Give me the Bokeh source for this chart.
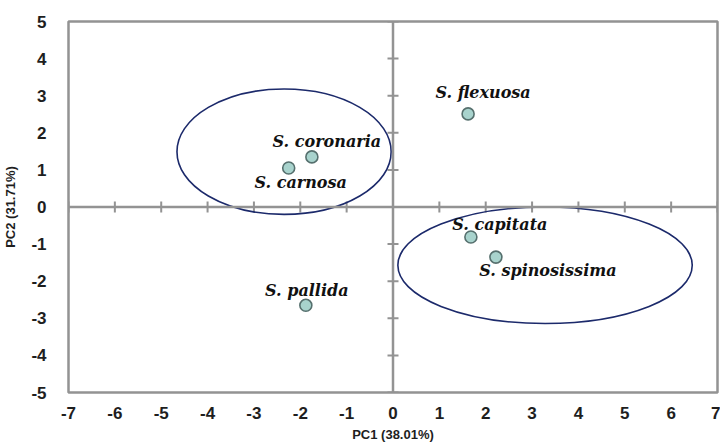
import math
from bokeh.plotting import figure
from bokeh.models import FixedTicker, Span
from bokeh.core.properties import value
from bokeh.embed import file_html
from bokeh.resources import INLINE

species = ["S. flexuosa", "S. coronaria", "S. carnosa", "S. capitata", "S. spinosissima", "S. pallida"]
pc1 = [1.62, -1.75, -2.25, 1.68, 2.22, -1.88]
pc2 = [2.51, 1.35, 1.05, -0.81, -1.35, -2.65]

# group ellipses (centre, width, height in PC units)
ell_x = [-2.35, 3.28]
ell_y = [1.49, -1.57]
ell_w = [4.62, 6.35]
ell_h = [3.38, 3.14]

x_ticks = list(range(-7, 8))
y_ticks = list(range(-5, 6))
x_tick_labels = {t: str(t) for t in x_ticks}
y_tick_labels = {t: str(t) for t in y_ticks}

# label offsets (pixels) relative to points
lab_dx = [15, 15, 12, 29, 52, 1]
lab_dy = [-21, -15, 14, -13, 13, -15]

GRAY = "#939393"
TXT = "#1e1e1e"

p = figure(width=720, height=444, x_range=(-7, 7), y_range=(-5, 5),
           output_backend="svg", toolbar_location=None,
           min_border_left=61, min_border_top=21, min_border_right=3, min_border_bottom=52)
p.xgrid.visible = False
p.ygrid.visible = False
p.outline_line_color = GRAY
p.outline_line_width = 2.5
p.background_fill_color = "white"
p.border_fill_color = "white"

for ax, ticks, labs in ((p.xaxis[0], x_ticks, x_tick_labels), (p.yaxis[0], y_ticks, y_tick_labels)):
    ax.ticker = FixedTicker(ticks=ticks)
    ax.major_label_overrides = labs
    ax.axis_line_color = None
    ax.major_tick_line_color = None
    ax.minor_tick_line_color = None
    ax.major_label_text_font = "Liberation Sans"
    ax.major_label_text_font_style = "bold"
    ax.major_label_text_font_size = "17px"
    ax.major_label_text_color = TXT
    ax.axis_label_text_font = "Liberation Sans"
    ax.axis_label_text_font_style = "bold"
    ax.axis_label_text_font_size = "13px"
    ax.axis_label_text_color = TXT
p.xaxis[0].axis_label = "PC1 (38.01%)"
p.yaxis[0].axis_label = "PC2 (31.71%)"
p.xaxis[0].major_label_standoff = 8
p.yaxis[0].major_label_standoff = 16
p.xaxis[0].axis_label_standoff = 5
p.yaxis[0].axis_label_standoff = 10

# centre cross-hair lines with cross ticks
p.add_layout(Span(location=0, dimension="width", line_color=GRAY, line_width=2.5))
p.add_layout(Span(location=0, dimension="height", line_color=GRAY, line_width=2.5))
p.scatter(x=x_ticks, y=[0] * len(x_ticks), marker="dash", angle=math.pi / 2, size=11,
          line_color=GRAY, line_width=2)
p.scatter(x=[0] * len(y_ticks), y=y_ticks, marker="dash", size=11,
          line_color=GRAY, line_width=2)

p.ellipse(x=ell_x, y=ell_y, width=ell_w, height=ell_h, fill_color=None,
          line_color="#1c2a6b", line_width=1.6)

p.scatter(x=pc1, y=pc2, size=12, fill_color="#a8d3cd", line_color="#56706e", line_width=1.6)

p.text(x=pc1, y=pc2, text=species, x_offset=lab_dx, y_offset=lab_dy,
       text_font=value("DejaVu Serif"), text_font_style="bold italic",
       text_font_size="16px", text_color="#111111",
       text_align="center", text_baseline="middle")

open("out.html", "w").write(file_html(p, INLINE))
